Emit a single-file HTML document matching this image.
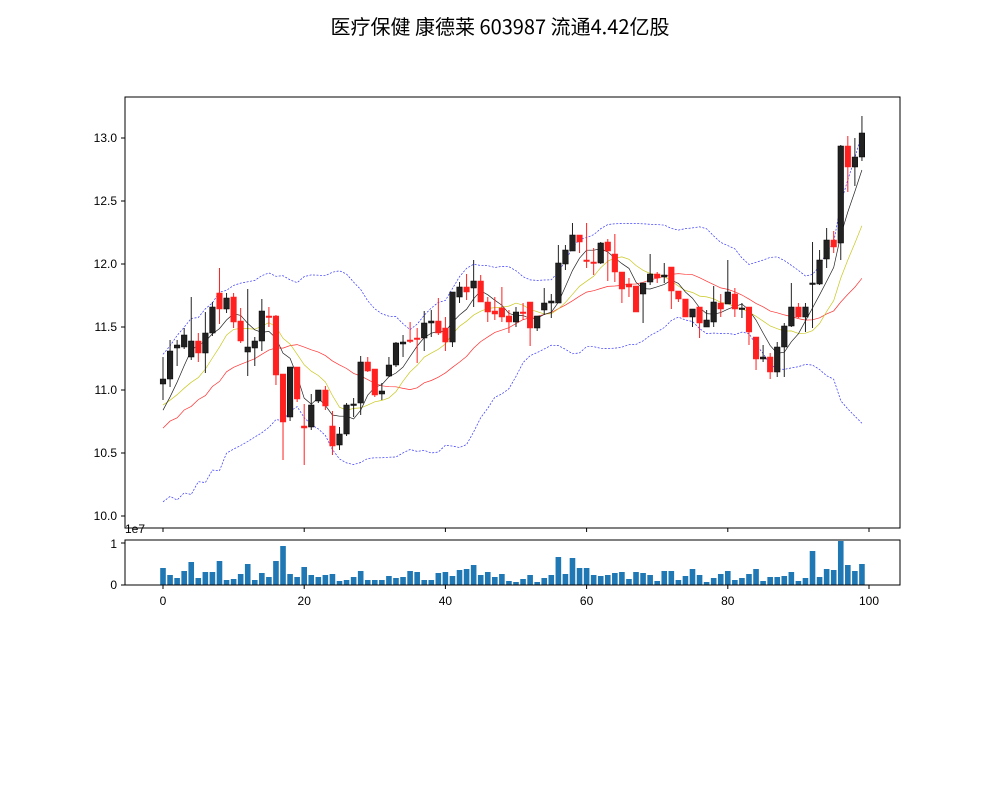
<!DOCTYPE html>
<html><head><meta charset="utf-8"><style>
html,body{margin:0;padding:0;background:#fff;}
svg{display:block;font-family:"WenQuanYi Zen Hei","Liberation Sans","DejaVu Sans",sans-serif;}
</style></head><body>
<svg id="s" width="1000" height="800" xmlns="http://www.w3.org/2000/svg">
<rect width="1000" height="800" fill="#fff"/>
<text x="500" y="34" text-anchor="middle" font-size="20" font-family="'WenQuanYi Zen Hei','Noto Sans CJK SC',sans-serif">医疗保健 康德莱 603987 流通4.42亿股</text>
<g id="g"></g>
<rect x="125" y="97" width="775" height="431" fill="none" stroke="#000" stroke-width="1"/>
<rect x="125" y="540" width="775" height="45" fill="none" stroke="#000" stroke-width="1"/>
<g font-size="12" text-anchor="end">
<text x="117" y="142">13.0</text><text x="117" y="205">12.5</text><text x="117" y="268">12.0</text>
<text x="117" y="331">11.5</text><text x="117" y="394">11.0</text><text x="117" y="457">10.5</text><text x="117" y="520">10.0</text>
<text x="117" y="548">1</text><text x="117" y="589">0</text>
</g>
<text x="125" y="533" font-size="12">1e7</text>
<g stroke="#000" stroke-width="1">
<line x1="121" x2="125" y1="138" y2="138"/><line x1="121" x2="125" y1="201" y2="201"/><line x1="121" x2="125" y1="264" y2="264"/>
<line x1="121" x2="125" y1="327" y2="327"/><line x1="121" x2="125" y1="390" y2="390"/><line x1="121" x2="125" y1="453" y2="453"/>
<line x1="121" x2="125" y1="516" y2="516"/><line x1="121" x2="125" y1="543" y2="543"/><line x1="121" x2="125" y1="585" y2="585"/>
</g>
<g id="xt" font-size="12" text-anchor="middle"></g>
</svg>
<script>
var C=[[379,384,357,400,0],[351,379,340,387,0],[345,348,340,366,0],[335,347,328,349,0],[341,357,297,360,0],[341,353,333,362,1],[333,353,312,373,0],[307,333,302,336,0],[293,309,268,324,1],[298,309,293,313,0],[297,322,293,328,1],[321,341,308,343,1],[347,352,289,376,0],[341,348,337,366,0],[311,341,299,351,0],[316,317,307,327,1],[316,375,315,385,1],[374,422,374,460,1],[367,417,367,421,0],[367,399,367,402,1],[426,428,404,465,1],[405,427,394,430,0],[390,401,390,403,0],[390,406,386,410,1],[426,446,411,455,1],[434,445,427,450,0],[405,434,403,436,0],[404,405,398,417,0],[362,403,356,415,0],[362,371,357,372,1],[369,395,369,397,1],[391,394,383,400,0],[365,376,357,377,0],[343,365,342,367,0],[342,344,335,357,0],[340,341,322,343,1],[338,339,328,363,1],[323,338,311,351,0],[321,323,310,337,0],[321,333,298,335,1],[328,342,317,351,1],[292,342,292,347,0],[287,297,282,303,0],[287,292,274,300,1],[281,288,260,307,0],[281,302,275,302,1],[302,312,297,322,1],[311,314,297,320,1],[308,317,287,322,1],[316,322,310,333,1],[312,322,307,327,0],[312,313,303,320,1],[302,328,302,346,1],[316,328,316,331,0],[303,310,288,315,0],[301,303,294,318,0],[263,303,245,303,0],[250,264,245,270,0],[235,251,223,251,0],[235,242,235,253,1],[260,261,223,268,1],[262,263,248,275,1],[243,263,242,264,0],[242,251,239,281,1],[254,272,234,282,1],[272,289,272,303,1],[284,287,278,297,1],[286,312,286,312,1],[283,294,283,323,0],[274,282,254,285,0],[274,278,272,283,1],[275,277,263,283,0],[267,291,267,309,1],[291,299,291,302,1],[299,317,299,317,1],[309,317,309,327,0],[307,323,307,338,1],[320,327,310,327,0],[302,322,286,327,0],[303,309,294,317,1],[292,304,260,304,0],[294,309,288,317,1],[308,309,303,318,0],[307,332,307,345,1],[337,359,337,370,1],[357,359,345,362,0],[357,372,353,379,1],[347,372,342,377,0],[326,347,323,377,0],[307,326,283,327,0],[307,317,303,318,1],[307,317,303,332,0],[283,284,242,328,0],[260,284,250,285,0],[240,259,228,268,0],[240,247,231,253,1],[146,243,145,260,0],[146,167,136,192,1],[157,167,138,186,0],[133,157,116,161,0]];
var VT=[144,165,174,153,126,174,156,156,123,180,177,162,132,180,159,171,123,78,162,171,141,165,171,165,162,183,180,171,153,180,180,180,168,174,171,153,156,180,180,159,156,168,150,147,135,165,156,171,162,183,186,177,165,186,174,165,111,162,114,144,144,165,168,165,159,156,177,156,159,165,183,153,153,180,168,147,165,186,174,162,153,180,174,162,147,183,171,171,168,156,183,174,93,171,147,150,63,135,153,132];
var X=function(i){return 163+7.06*i;};
var cl=C.map(function(c){return c[4]?c[1]:c[0];});
var pad=[];for(var k=0;k<10;k++)pad.push(k%2?412:490);for(k=0;k<5;k++)pad.push(400);for(k=0;k<4;k++)pad.push(418);
var all=pad.concat(cl),P=pad.length;
function ma(n,i){var s=0;for(var j=0;j<n;j++)s+=all[P+i-j];return s/n;}
function sd(i){var m=ma(20,i),s=0;for(var j=0;j<20;j++){var d=all[P+i-j]-m;s+=d*d;}return Math.sqrt(s/20);}
var h='';
function line(f,st,w,dash){var d='';for(var i=0;i<100;i++)d+=(i?'L':'M')+X(i).toFixed(1)+' '+f(i).toFixed(1);
h+='<path d="'+d+'" fill="none" stroke="'+st+'" stroke-width="'+w+'"'+(dash?' stroke-dasharray="'+dash+'"':'')+'/>';}
line(function(i){return ma(20,i)-2*sd(i);},'#3333ff',0.7,'2,1.5');
line(function(i){return ma(20,i)+2*sd(i);},'#3333ff',0.7,'2,1.5');
line(function(i){return ma(20,i);},'#ff3030',0.7);
line(function(i){return ma(10,i);},'#c8c820',0.7);
line(function(i){return ma(5,i);},'#222',0.7);
for(var i=0;i<100;i++){var c=C[i],x=X(i),col=c[4]?'#ff2020':'#222';
h+='<line x1="'+x+'" x2="'+x+'" y1="'+c[2]+'" y2="'+c[3]+'" stroke="'+col+'" stroke-width="1"/>';
var bh=Math.max(c[1]-c[0],1.5);
h+='<rect x="'+(x-2.8)+'" y="'+c[0]+'" width="5.6" height="'+bh+'" fill="'+col+'" stroke="'+(c[4]?'#ff2020':'#000')+'" stroke-width="0.5"/>';
var vh=(195-VT[i])/3;
h+='<rect x="'+(x-2.8)+'" y="'+(585-vh)+'" width="5.6" height="'+vh+'" fill="#1f77b4"/>';}
document.getElementById('g').innerHTML=h;
var t='';for(var k=0;k<=100;k+=20){var x=X(k);
t+='<line x1="'+x+'" x2="'+x+'" y1="528" y2="532" stroke="#000"/><line x1="'+x+'" x2="'+x+'" y1="585" y2="589" stroke="#000"/><text x="'+x+'" y="605">'+k+'</text>';}
document.getElementById('xt').innerHTML=t;
</script>
</body></html>
